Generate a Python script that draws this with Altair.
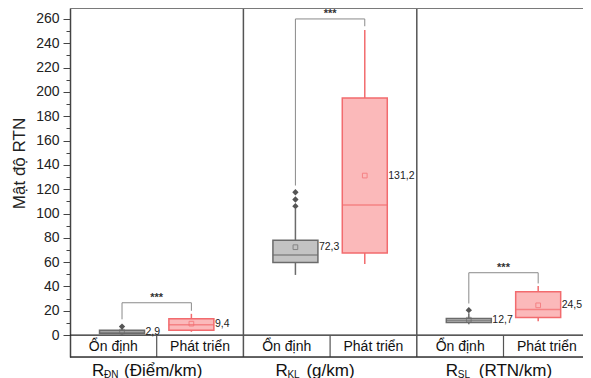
import altair as alt
import pandas as pd

# ---------------- data ----------------
panels = ["ĐN", "KL", "SL"]
panel_units = ["(Điểm/km)", "(g/km)", "(RTN/km)"]
groups = ["Ổn định", "Phát triển"]

# one entry per box: panel0/Ổn định, panel0/Phát triển, panel1/..., panel2/...
whisker_low = [0.3, 2.7, 49.5, 58.5, 9.0, 11.5]
q1 = [1.3, 4.1, 59.7, 67.5, 10.4, 14.5]
median = [2.4, 8.6, 65.8, 107.0, 12.0, 21.1]
q3 = [3.9, 13.5, 78.0, 195.0, 13.7, 35.6]
whisker_high = [6.0, 17.5, 104.0, 251.0, 18.0, 40.3]
means = [2.9, 9.4, 72.3, 131.2, 12.7, 24.5]
outliers = [[7.0], [], [106.0, 111.5, 117.5], [], [20.5], []]

# significance brackets (per panel)
bracket_left = [13.0, 123.0, 26.0]
bracket_top = [26.6, 260.0, 51.3]
bracket_right = [20.0, 254.0, 42.5]
signif = ["***", "***", "***"]

y_ticks = list(range(0, 261, 10))

# ---------------- layout / style ----------------
W, H = 513, 349
YMIN, YMAX = -18, 269
XMAX = W / 86.7
FONT = "Liberation Sans"
stroke_cols = ["#6b6b6b", "#f26b6e"]
fill_cols = ["#c3c3c3", "#fbb9ba"]


def pos_of(p, c):
    return 2 * p + 1 + (c - 0.5) * 0.8


rows = []
out_rows = []
for i in range(6):
    p, c = divmod(i, 2)
    rows.append(dict(panel=panels[p], group=groups[c], pos=pos_of(p, c),
                     low=whisker_low[i], q1=q1[i], med=median[i], q3=q3[i],
                     high=whisker_high[i], mean=means[i],
                     label=f"{means[i]:.1f}".replace(".", ",")))
    for o in outliers[i]:
        out_rows.append(dict(group=groups[c], pos=pos_of(p, c), v=o))
box_df = pd.DataFrame(rows)
out_df = pd.DataFrame(out_rows)

br_rows, star_rows = [], []
for p in range(3):
    xl, xr = pos_of(p, 0), pos_of(p, 1)
    pts = [(xl, bracket_left[p]), (xl, bracket_top[p]), (xr, bracket_top[p]), (xr, bracket_right[p])]
    for k, (x, y) in enumerate(pts):
        br_rows.append(dict(panel=panels[p], o=k, x=x, y=y))
    star_rows.append(dict(x=(xl + xr) / 2, y=bracket_top[p], t=signif[p]))
br_df = pd.DataFrame(br_rows)
star_df = pd.DataFrame(star_rows)

cat_df = pd.DataFrame([dict(x=2 * p + 0.5 + c, t=groups[c]) for p in range(3) for c in range(2)])
pdiv_df = pd.DataFrame({"x": [2, 4]})
cdiv_df = pd.DataFrame({"x": [1, 3, 5]})

xs = alt.Scale(domain=[0, XMAX], nice=False, zero=False, padding=0)
ys = alt.Scale(domain=[YMIN, YMAX], nice=False, zero=False, padding=0)
y_axis = alt.Axis(values=y_ticks, grid=False,
                  labelExpr="datum.value % 20 === 0 ? datum.label : ''",
                  tickSize={"condition": {"test": "datum.value % 20 === 0", "value": 7}, "value": 4},
                  labelPadding=4, labelFontSize=14, labelFont=FONT, labelColor="#222",
                  domainColor="#444", domainWidth=1.5, tickColor="#444", tickWidth=1,
                  titleFont=FONT, titleFontSize=17, titleFontWeight="normal", titleColor="#222",
                  titleAngle=-90, titleX=-46, titleY=155, titleAlign="center",
                  titleBaseline="alphabetic")
X = lambda f: alt.X(f, type="quantitative", scale=xs, axis=None)
Y = lambda f: alt.Y(f, type="quantitative", scale=ys, axis=y_axis, title="Mật độ RTN")
stroke_enc = alt.Stroke("group:N", scale=alt.Scale(domain=groups, range=stroke_cols), legend=None)
color_enc = alt.Color("group:N", scale=alt.Scale(domain=groups, range=stroke_cols), legend=None)
fill_enc = alt.Fill("group:N", scale=alt.Scale(domain=groups, range=fill_cols), legend=None)

base = alt.Chart(box_df)

top_line = alt.Chart(pd.DataFrame({"v": [0]})).mark_rule(color="#7a7a7a", strokeWidth=2).encode(
    x=alt.value(0), x2=alt.value(W), y=alt.value(0))
bottom_line = alt.Chart(pd.DataFrame({"v": [0]})).mark_rule(color="#333", strokeWidth=1.5).encode(
    x=alt.value(0), x2=alt.value(W), y=alt.value(H))
zero_line = alt.Chart(pd.DataFrame({"v": [0]})).mark_rule(color="#222", strokeWidth=1.2).encode(
    x=alt.value(0), x2=alt.value(W), y=Y("v"))
pdiv = alt.Chart(pdiv_df).mark_rule(color="#555", strokeWidth=1.5).encode(
    x=X("x"), y=alt.value(0), y2=alt.value(H))
cdiv = alt.Chart(cdiv_df).transform_calculate(lo=str(YMIN), hi="0").mark_rule(
    color="#555", strokeWidth=1.2).encode(x=X("x"), y=Y("lo"), y2=alt.Y2("hi"))
cat_text = alt.Chart(cat_df).transform_calculate(yy=str(YMIN / 2)).mark_text(
    font=FONT, fontSize=14, color="#111", baseline="middle", dy=1).encode(
    x=X("x"), y=Y("yy"), text="t:N")

whisk_lo = base.mark_rule(strokeWidth=1.5).encode(x=X("pos"), y=Y("low"), y2=alt.Y2("q1"), color=color_enc)
whisk_hi = base.mark_rule(strokeWidth=1.5).encode(x=X("pos"), y=Y("q3"), y2=alt.Y2("high"), color=color_enc)
boxes = base.mark_bar(width=45, strokeWidth=1.5).encode(
    x=X("pos"), y=Y("q1"), y2=alt.Y2("q3"), fill=fill_enc, stroke=stroke_enc)
med = base.mark_tick(orient="horizontal", size=45, thickness=1.5).encode(
    x=X("pos"), y=Y("med"), color=color_enc)
mean_pt = base.mark_point(shape="square", filled=False, size=22, strokeWidth=1).encode(
    x=X("pos"), y=Y("mean"), color=color_enc)
mean_lbl = base.mark_text(align="left", baseline="middle", dx=23.5, font=FONT, fontSize=10.5,
                          color="#222").encode(x=X("pos"), y=Y("mean"), text="label:N")
outl = alt.Chart(out_df).mark_point(shape="diamond", filled=True, size=40, color="#555",
                                    opacity=1).encode(x=X("pos"), y=Y("v"))
brackets = alt.Chart(br_df).mark_line(color="#8a8a8a", strokeWidth=1).encode(
    x=X("x"), y=Y("y"), detail="panel:N", order="o:Q")
stars = alt.Chart(star_df).mark_text(font=FONT, fontSize=11, color="#333", dy=-5,
                                     fontWeight="bold").encode(x=X("x"), y=Y("y"), text="t:N")

# panel titles: R + subscript + unit
title_layers = []
r_dx = [22, 32, 29]
sub_dx = [34, 44, 41]
rest_dx = [54, 63, 62]
for p in range(3):
    tdf = pd.DataFrame({"x": [2 * p], "r": ["R"], "s": [panels[p]], "u": [panel_units[p]]})
    tc = alt.Chart(tdf)
    title_layers += [
        tc.mark_text(align="left", baseline="alphabetic", font=FONT, fontSize=17, color="#111",
                     dx=r_dx[p]).encode(x=X("x"), y=alt.value(H + 18.5), text="r:N"),
        tc.mark_text(align="left", baseline="alphabetic", font=FONT, fontSize=10, color="#111",
                     dx=sub_dx[p]).encode(x=X("x"), y=alt.value(H + 20.5), text="s:N"),
        tc.mark_text(align="left", baseline="alphabetic", font=FONT, fontSize=17, color="#111",
                     dx=rest_dx[p]).encode(x=X("x"), y=alt.value(H + 18.5), text="u:N"),
    ]

chart = alt.layer(
    zero_line, brackets, stars, whisk_lo, whisk_hi, boxes, med, mean_pt, mean_lbl, outl,
    cdiv, cat_text, pdiv, top_line, bottom_line, *title_layers
).properties(
    width=W, height=H,
    autosize=alt.AutoSizeParams(type="none"),
    padding={"left": 62, "top": 0, "right": 0, "bottom": 21},
).configure_view(stroke=None).configure(background="white")

chart.save("out.html", embed_options={"renderer": "svg", "actions": False})
